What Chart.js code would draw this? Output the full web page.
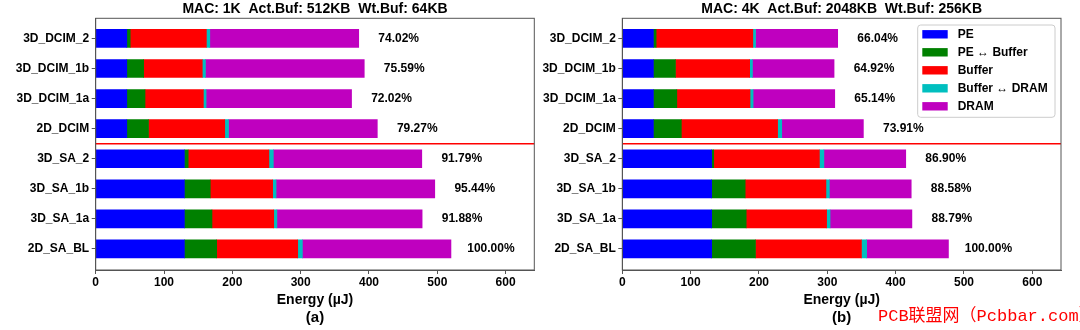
<!DOCTYPE html>
<html>
<head>
<meta charset="utf-8">
<script src="https://cdn.jsdelivr.net/npm/chart.js@4.4.1/dist/chart.umd.min.js"></script>
<style>
  body { margin: 0; background: #fff; }
  #wrap { position: relative; width: 1080px; height: 330px; overflow: hidden; }
  .panel { position: absolute; top: 0; width: 540px; height: 330px; }
  #mark { position: absolute; left: 878px; top: 301px; color: #ff0000; font-size: 17px;
          font-family: "Liberation Mono", "Noto Sans CJK SC", monospace; white-space: nowrap; }
</style>
</head>
<body>
<div id="wrap">
  <div class="panel" style="left:0"><canvas id="chartA" width="540" height="330"></canvas></div>
  <div class="panel" style="left:540px"><canvas id="chartB" width="540" height="330"></canvas></div>
  <div id="mark">PCB联盟网（Pcbbar.com）</div>
</div>
<script>
// categories, top to bottom
const categories = ['3D_DCIM_2', '3D_DCIM_1b', '3D_DCIM_1a', '2D_DCIM', '3D_SA_2', '3D_SA_1b', '3D_SA_1a', '2D_SA_BL'];
const seriesNames = ['PE', 'PE \u2194 Buffer', 'Buffer', 'Buffer \u2194 DRAM', 'DRAM'];
const seriesColors = ['#0000ff', '#008000', '#ff0000', '#00bfbf', '#bf00bf'];
const xTicks = [0, 100, 200, 300, 400, 500, 600];

// (a) MAC 1K, energy in uJ
const pe1k      = [45.5, 45.5, 45.5, 45.5, 129.8, 129.8, 129.8, 129.8];
const peBuf1k   = [5.0, 24.7, 26.7, 31.8, 5.6, 37.9, 40.4, 47.3];
const buf1k     = [111.5, 85.8, 85.4, 111.6, 118.1, 91.3, 90.4, 118.6];
const bufDram1k = [5.0, 4.6, 4.0, 5.5, 6.5, 5.0, 4.6, 6.8];
const dram1k    = [218.0, 232.5, 212.9, 217.8, 217.3, 232.3, 212.6, 217.5];
const pct1k     = ['74.02%', '75.59%', '72.02%', '79.27%', '91.79%', '95.44%', '91.88%', '100.00%'];

// (b) MAC 4K
const pe4k      = [45.5, 45.5, 45.5, 45.5, 130.8, 130.8, 130.8, 130.8];
const peBuf4k   = [4.0, 32.3, 34.3, 40.9, 3.0, 49.0, 50.5, 64.1];
const buf4k     = [141.5, 108.6, 107.1, 140.9, 154.6, 118.2, 117.7, 155.1];
const bufDram4k = [4.0, 4.0, 4.5, 6.0, 6.6, 5.0, 5.0, 7.6];
const dram4k    = [120.2, 119.5, 119.5, 119.5, 119.8, 119.8, 119.8, 119.7];
const pct4k     = ['66.04%', '64.92%', '65.14%', '73.91%', '86.90%', '88.58%', '88.79%', '100.00%'];

const FONT = '"Liberation Sans", Arial, sans-serif';
const AXIS = '#555555';

// frame, divider line and percent labels
const decor = {
  id: 'decor',
  afterDatasetsDraw(chart) {
    const { ctx, chartArea: a, scales: { x, y } } = chart;
    const cfg = chart.config.options.plugins.decor;
    ctx.save();
    ctx.strokeStyle = '#ff0000';
    ctx.lineWidth = 1.5;
    ctx.beginPath();
    const yl = y.getPixelForValue(3.5);
    ctx.moveTo(a.left, yl);
    ctx.lineTo(a.right, yl);
    ctx.stroke();

    ctx.fillStyle = '#000';
    ctx.font = 'bold 12px ' + FONT;
    ctx.textAlign = 'center';
    ctx.textBaseline = 'middle';
    cfg.totals.forEach((t, i) => {
      ctx.fillText(cfg.pct[i], x.getPixelForValue(t + 58.5), y.getPixelForValue(i));
    });

    ctx.strokeStyle = AXIS;
    ctx.lineWidth = 1;
    ctx.strokeRect(a.left, a.top, a.right - a.left, a.bottom - a.top);

    if (cfg.legend) {
      const w = 137.3, h = 92.3;
      const lx = a.right - 6 - w, ly = a.top + 6.7;
      ctx.fillStyle = 'rgba(255,255,255,0.85)';
      ctx.strokeStyle = '#cccccc';
      ctx.beginPath();
      ctx.roundRect(lx, ly, w, h, 3);
      ctx.fill();
      ctx.stroke();
      ctx.textAlign = 'left';
      chart.data.datasets.forEach((ds, k) => {
        const cy = ly + 9.3 + k * 18;
        ctx.fillStyle = ds.backgroundColor;
        ctx.fillRect(lx + 4.6, cy - 4.2, 25.4, 8.4);
        ctx.fillStyle = '#000';
        ctx.fillText(ds.label, lx + 40, cy + 0.5);
      });
    }
    ctx.restore();
  }
};

function makeChart(id, series, pct, heading, tag, yWidth, padRight, withLegend) {
  const totals = categories.map((c, i) => series.reduce((s, arr) => s + arr[i], 0));
  const datasets = series.map((arr, k) => ({
    label: seriesNames[k],
    data: arr.map((v, i) => ({ x: v, y: i })),
    backgroundColor: seriesColors[k],
    borderWidth: 0,
    barThickness: 18,
  }));
  const tickFont = { family: FONT, size: 12, weight: 'bold' };
  return new Chart(document.getElementById(id), {
    type: 'bar',
    data: { datasets },
    options: {
      indexAxis: 'y',
      responsive: false,
      animation: false,
      layout: { padding: { left: 0, right: padRight, top: 0, bottom: 0 } },
      scales: {
        x: {
          type: 'linear', min: 0, max: 642, stacked: true, offset: false,
          afterBuildTicks: s => { s.ticks = xTicks.map(v => ({ value: v })); },
          afterFit: s => { s.height = 39.3; },
          ticks: { color: '#000', font: tickFont, padding: 1, maxRotation: 0 },
          grid: { drawOnChartArea: false, tickLength: 4, color: AXIS, offset: false },
          border: { color: AXIS, width: 1 },
          title: { display: true, text: 'Energy (\u00b5J)', color: '#000',
                   font: { family: FONT, size: 14, weight: 'bold' }, padding: { top: 0, bottom: 1 } },
        },
        y: {
          type: 'linear', reverse: true, min: -0.67, max: 7.7, stacked: true, offset: false,
          afterBuildTicks: s => { s.ticks = categories.map((c, i) => ({ value: i })); },
          afterFit: s => { s.width = yWidth; },
          ticks: { color: '#000', font: tickFont, padding: 2.5, autoSkip: false,
                   callback: v => categories[v] },
          grid: { drawOnChartArea: false, tickLength: 4, color: AXIS, offset: false },
          border: { color: AXIS, width: 1 },
        },
      },
      plugins: {
        legend: { display: false },
        tooltip: { enabled: false },
        title: { display: true, text: heading, fullSize: false, color: '#000',
                 font: { family: FONT, size: 14, weight: 'bold' }, padding: { top: 1, bottom: 0.5 } },
        subtitle: { display: true, text: tag, position: 'bottom', fullSize: false, color: '#000',
                    font: { family: FONT, size: 15, weight: 'bold' }, padding: { top: 0, bottom: 2.7 } },
        decor: { totals, pct, legend: withLegend },
      },
    },
    plugins: [decor],
  });
}

makeChart('chartA', [pe1k, peBuf1k, buf1k, bufDram1k, dram1k], pct1k,
  'MAC: 1K  Act.Buf: 512KB  Wt.Buf: 64KB', '(a)', 95.7, 5.7, false);
makeChart('chartB', [pe4k, peBuf4k, buf4k, bufDram4k, dram4k], pct4k,
  'MAC: 4K  Act.Buf: 2048KB  Wt.Buf: 256KB', '(b)', 82.3, 19, true);
</script>
</body>
</html>
